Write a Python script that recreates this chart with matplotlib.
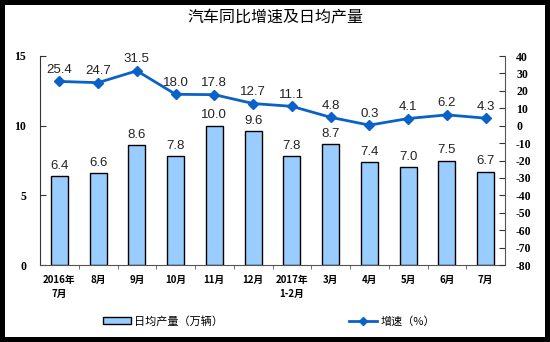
import matplotlib.pyplot as plt
from matplotlib.patches import Rectangle
from matplotlib.lines import Line2D

plt.rcParams['font.family'] = ['Noto Sans CJK SC', 'DejaVu Sans']
plt.rcParams['axes.unicode_minus'] = False

months = ['2016年\n7月', '8月', '9月', '10月', '11月', '12月', '2017年\n1-2月',
          '3月', '4月', '5月', '6月', '7月']
daily = [6.4, 6.6, 8.6, 7.8, 10.0, 9.6, 7.8, 8.7, 7.4, 7.0, 7.5, 6.7]
growth = [25.4, 24.7, 31.5, 18.0, 17.8, 12.7, 11.1, 4.8, 0.3, 4.1, 6.2, 4.3]

bar_color = '#99CCFF'
line_color = '#0A62C8'
tick_font = dict(family='Liberation Serif', weight='bold', size=8.5)

fig = plt.figure(figsize=(5.5, 3.42), dpi=100)
fig.patch.set_facecolor('black')
# white panel inside the black frame
fig.patches.append(Rectangle((5 / 550, 5 / 342), 540 / 550, 332 / 342,
                             transform=fig.transFigure, facecolor='white',
                             edgecolor='none', zorder=-10))

ax1 = fig.add_axes([40 / 550, (342 - 265) / 342, 465 / 550, 209 / 342])
ax1.set_facecolor('none')
x = list(range(len(months)))
ax1.bar(x, daily, width=0.44, color=bar_color, edgecolor='black', linewidth=1.0, zorder=2)
for xi, v in zip(x, daily):
    ax1.text(xi, v + 0.3, f'{v:.1f}', ha='center', va='bottom', fontsize=9.5,
             family='Liberation Sans', color='#222222', zorder=3)

ax1.set_xlim(-0.5, len(months) - 0.5)
ax1.set_ylim(0, 15)
ax1.set_yticks([0, 5, 10, 15])
ax1.set_xticks(x)
ax1.set_xticklabels(months, fontsize=7, fontweight='bold', linespacing=1.5)
ax1.set_xticks([i + 0.5 for i in x[:-1]], minor=True)
ax1.tick_params(axis='x', which='major', length=0, pad=7)
ax1.tick_params(axis='x', which='minor', length=3, direction='out', color='#555555')
ax1.tick_params(axis='y', direction='in', length=4, pad=10, color='#333333')
for lab in ax1.get_yticklabels():
    lab.set(**tick_font)
for s in ['top', 'right']:
    ax1.spines[s].set_visible(False)
ax1.spines['left'].set_color('#333333')
ax1.spines['bottom'].set_color('#555555')

ax2 = ax1.twinx()
ax2.plot(x, growth, color=line_color, linewidth=2, marker='D', markersize=5, zorder=4)
for xi, v in zip(x, growth):
    ax2.text(xi, v + 3.2, f'{v:.1f}', ha='center', va='bottom', fontsize=9.5,
             family='Liberation Sans', color='#222222', zorder=5)
ax2.set_ylim(-80, 40)
ax2.set_yticks(range(-80, 41, 10))
ax2.tick_params(axis='y', direction='in', length=4, pad=8, color='#333333')
for lab in ax2.get_yticklabels():
    lab.set(**tick_font)
for s in ['top', 'left', 'bottom']:
    ax2.spines[s].set_visible(False)
ax2.spines['right'].set_color('#555555')

fig.text(0.5, 1 - 18 / 342, '汽车同比增速及日均产量', ha='center', va='center', fontsize=11.5)

handles = [Rectangle((0, 0), 1, 1, facecolor=bar_color, edgecolor='black'),
           Line2D([], [], color=line_color, linewidth=2, marker='D', markersize=4)]
fig.legend(handles, ['日均产量（万辆）', '增速（%）'], loc='center',
           bbox_to_anchor=(269 / 550, 1 - 321 / 342), ncol=2, frameon=False,
           fontsize=8, columnspacing=11.3, handlelength=2.5, handleheight=0.5,
           handletextpad=0.3)

fig.savefig('out.png', dpi=100, facecolor=fig.get_facecolor())
